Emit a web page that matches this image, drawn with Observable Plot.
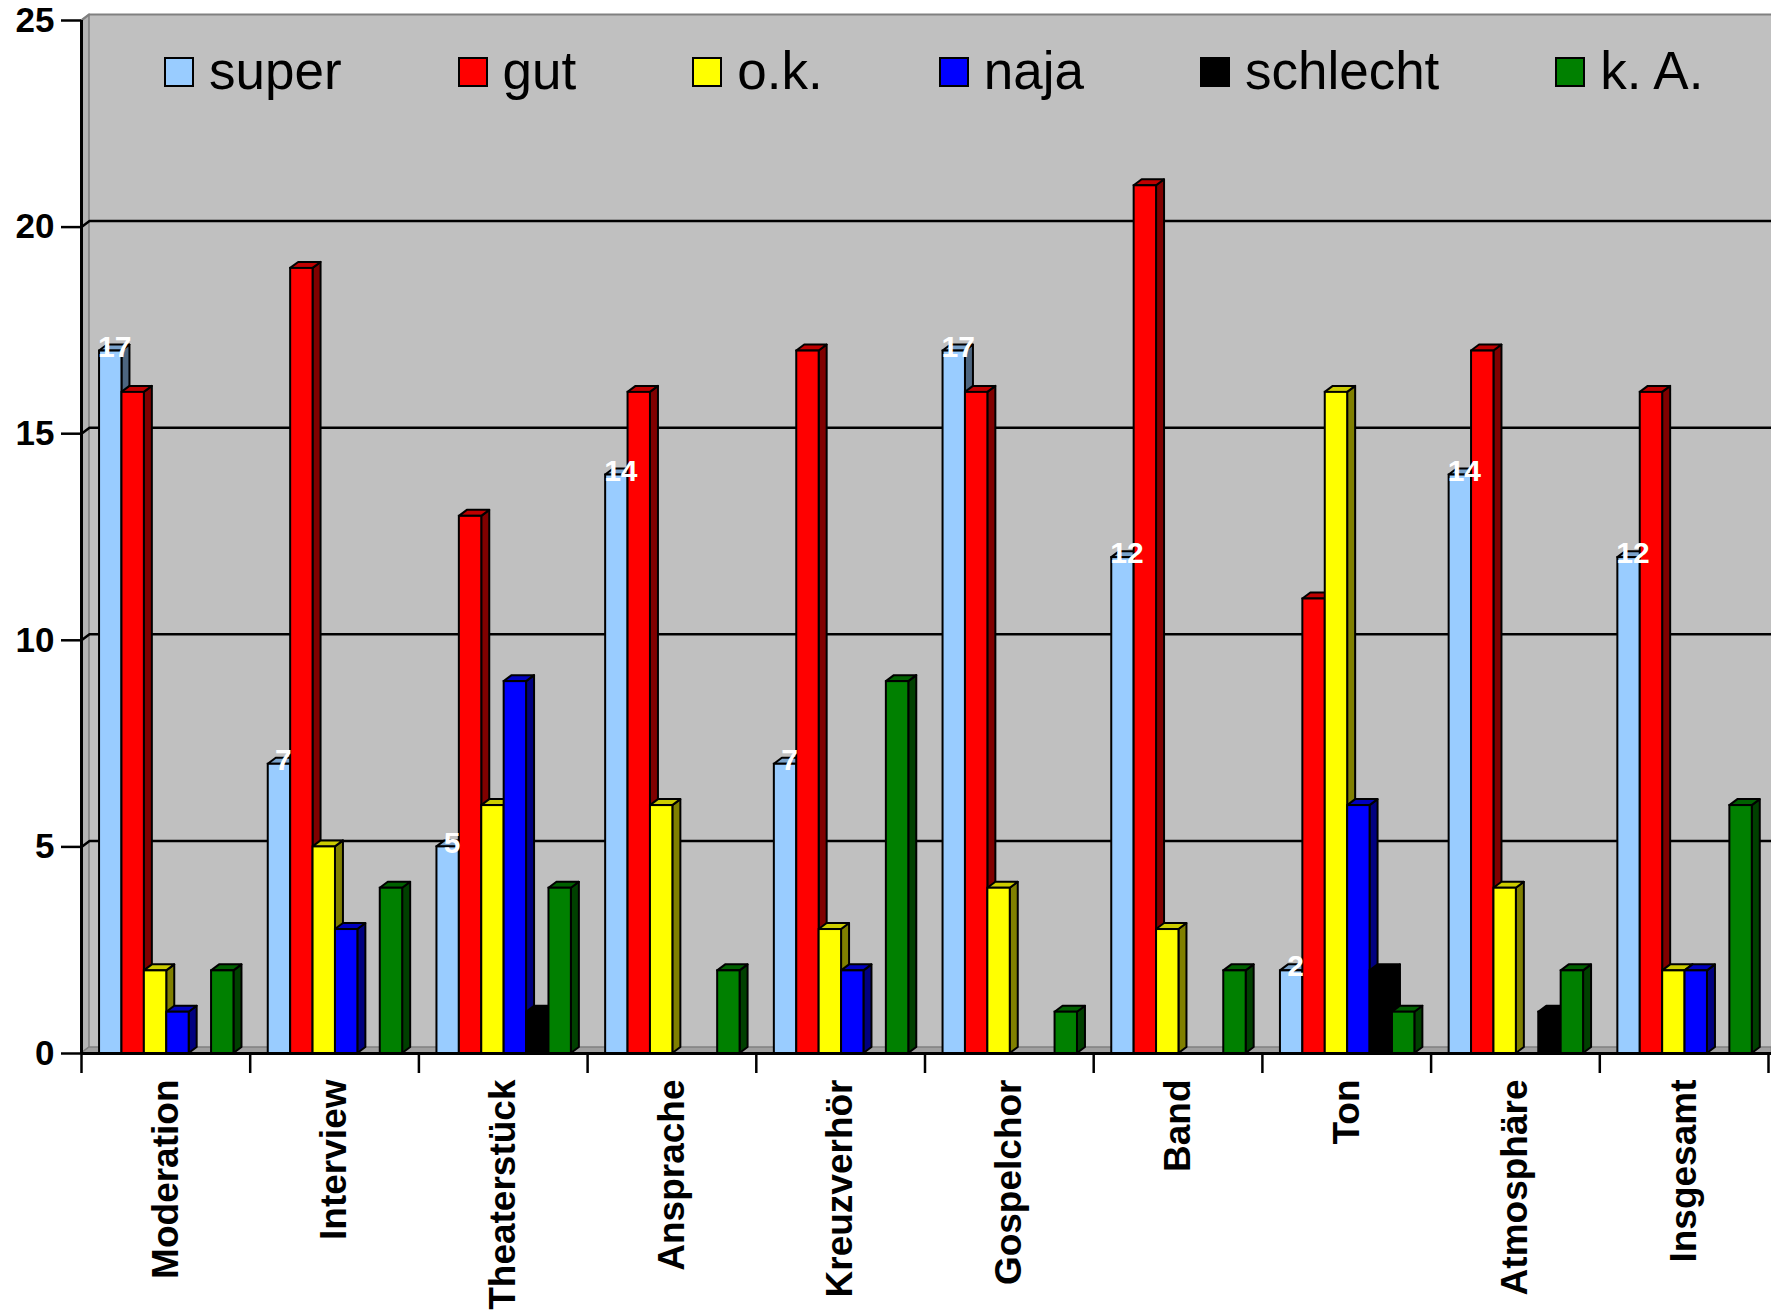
<!DOCTYPE html>
<html>
<head>
<meta charset="utf-8">
<script src="https://cdn.jsdelivr.net/npm/d3@7"></script>
<script src="https://cdn.jsdelivr.net/npm/@observablehq/plot@0.6"></script>
<style>
  html, body { margin: 0; padding: 0; background: #fff; }
  #wrap { position: relative; width: 1771px; height: 1311px; overflow: hidden; font-family: "Liberation Sans", Arial, sans-serif; }
  #legend { position: absolute; left: 164px; top: 45px; display: flex; white-space: nowrap; }
  .item { display: flex; align-items: flex-start; margin-right: 116px; font-size: 53px; line-height: 52px; color: #000; }
  .sw { width: 26px; height: 26px; border: 2px solid #000; margin-top: 12px; margin-right: 15px; }
</style>
</head>
<body>
<div id="wrap"><div id="chart"></div><div id="legend"></div></div>
<script>
// ---- data ----
const categories = ["Moderation", "Interview", "Theaterstück", "Ansprache", "Kreuzverhör", "Gospelchor", "Band", "Ton", "Atmosphäre", "Insgesamt"];
const seriesNames = ["super", "gut", "o.k.", "naja", "schlecht", "k. A."];
const superVals    = [17, 7, 5, 14, 7, 17, 12, 2, 14, 12];
const gutVals      = [16, 19, 13, 16, 17, 16, 21, 11, 17, 16];
const okVals       = [2, 5, 6, 6, 3, 4, 3, 16, 4, 2];
const najaVals     = [1, 3, 9, 0, 2, 0, 0, 6, 0, 2];
const schlechtVals = [0, 0, 1, 0, 0, 0, 0, 2, 1, 0];
const kaVals       = [2, 4, 4, 2, 9, 1, 2, 1, 2, 6];
const yTicks = [0, 5, 10, 15, 20, 25];

// ---- styles ----
const frontColors = ["#99CCFF", "#FF0000", "#FFFF00", "#0000FF", "#000000", "#008000"];
const topColors   = ["#7AA3CC", "#C00000", "#CCCC00", "#0000C0", "#000000", "#006000"];
const sideColors  = ["#4D6680", "#800000", "#808000", "#000080", "#000000", "#004000"];

const allVals = [superVals, gutVals, okVals, najaVals, schlechtVals, kaVals];
const n = categories.length;
const yMax = 25;
const PAD = 0.107;   // left padding within a category (fraction of category)
const W = 0.1328;    // bar width (fraction of category)
const DX = 0.0474;   // 3D depth in x units
const DY = 0.145;    // 3D depth in y units
const XR = n + 0.02;

const bars = [];
allVals.forEach((vals, s) => vals.forEach((v, c) => {
  if (v > 0) {
    const x1 = c + PAD + s * W;
    bars.push({id: c * 10 + s, c, s, v, x1, x2: x1 + W});
  }
}));
const sides = bars.flatMap(b => [
  {id: b.id, s: b.s, x: b.x2, y1: 0, y2: b.v},
  {id: b.id, s: b.s, x: b.x2 + DX, y1: DY, y2: b.v + DY}
]);
const tops = bars.flatMap(b => [
  {id: b.id, s: b.s, y: b.v, x1: b.x1, x2: b.x2},
  {id: b.id, s: b.s, y: b.v + DY, x1: b.x1 + DX, x2: b.x2 + DX}
]);
const grid = yTicks.filter(v => v > 0 && v < yMax).flatMap(v => [
  {v, x: 0, y: v}, {v, x: DX, y: v + DY}, {v, x: XR, y: v + DY}
]);
const topEdge = [{x: 0, y: yMax}, {x: DX, y: yMax + DY}, {x: XR, y: yMax + DY}];

const chart = Plot.plot({
  width: 1771,
  height: 1311,
  marginLeft: 81,
  marginRight: 3,
  marginTop: 20,
  marginBottom: 258,
  x: {domain: [0, n], axis: null},
  y: {domain: [0, yMax], axis: null},
  color: {type: "identity"},
  style: {fontFamily: "'Liberation Sans', Arial, sans-serif", background: "#fff", color: "#000"},
  marks: [
    // back wall
    Plot.rect([{x1: DX, x2: XR, y1: DY, y2: yMax + DY}], {x1: "x1", x2: "x2", y1: "y1", y2: "y2", fill: "#C0C0C0"}),
    // left wall
    Plot.areaY([{x: 0, y1: 0, y2: yMax}, {x: DX, y1: DY, y2: yMax + DY}], {x: "x", y1: "y1", y2: "y2", fill: "#B4B4B4", stroke: "#808080", strokeWidth: 1.5}),
    // floor
    Plot.areaY([{x: 0, y1: 0, y2: 0}, {x: DX, y1: 0, y2: DY}, {x: XR, y1: 0, y2: DY}], {x: "x", y1: "y1", y2: "y2", fill: "#A0A0A0", stroke: "#808080", strokeWidth: 1.5}),
    Plot.line(topEdge, {x: "x", y: "y", stroke: "#808080", strokeWidth: 2}),
    // gridlines
    Plot.line(grid, {x: "x", y: "y", z: "v", stroke: "#000", strokeWidth: 2.5}),
    // bars: sides, tops, fronts
    Plot.areaY(sides, {x: "x", y1: "y1", y2: "y2", z: "id", fill: d => sideColors[d.s], stroke: "#000", strokeWidth: 2, strokeLinejoin: "round"}),
    Plot.areaX(tops, {y: "y", x1: "x1", x2: "x2", z: "id", fill: d => topColors[d.s], stroke: "#000", strokeWidth: 2, strokeLinejoin: "round"}),
    Plot.rect(bars, {x1: "x1", x2: "x2", y1: 0, y2: "v", fill: d => frontColors[d.s], stroke: "#000", strokeWidth: 2}),
    // axes
    Plot.ruleY([0], {x1: 0, x2: XR, stroke: "#000", strokeWidth: 3}),
    Plot.ruleX([0], {y1: 0, y2: yMax, stroke: "#000", strokeWidth: 3}),
    Plot.axisY({ticks: yTicks, tickSize: 20, tickPadding: 7, tickFormat: d => String(d), fontSize: 35, fontWeight: "bold", strokeWidth: 2.5, label: null}),
    Plot.axisX({ticks: d3.range(n + 1), tickSize: 20, tickFormat: () => "", strokeWidth: 2.5, label: null}),
    // value labels for "super"
    Plot.text(bars.filter(b => b.s === 0), {x: d => (d.x1 + d.x2) / 2, y: "v", text: d => String(d.v), dx: 4, dy: -4, fill: "#fff", fontSize: 30, fontWeight: "bold"}),
    // category labels
    Plot.text(categories, {x: (d, i) => i + 0.5, y: 0, text: d => d, rotate: -90, textAnchor: "end", dy: 26, fontSize: 37, fontWeight: "bold", fill: "#000"})
  ]
});
document.getElementById("chart").appendChild(chart);

// legend
const legend = document.getElementById("legend");
seriesNames.forEach((name, i) => {
  const item = document.createElement("div");
  item.className = "item";
  const sw = document.createElement("div");
  sw.className = "sw";
  sw.style.background = frontColors[i];
  const t = document.createElement("span");
  t.textContent = name;
  item.appendChild(sw);
  item.appendChild(t);
  legend.appendChild(item);
});
</script>
</body>
</html>
